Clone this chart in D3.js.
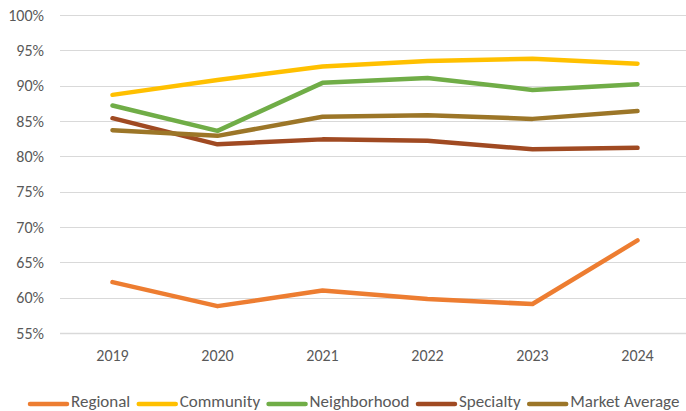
<!DOCTYPE html>
<html><head><meta charset="utf-8">
<script src="https://cdn.jsdelivr.net/npm/d3@7"></script>
<style>body{margin:0;background:#fff}svg{display:block}text{font-family:Calibri,Carlito,"Liberation Sans",Arial,sans-serif}</style>
</head><body><svg id="c" width="686" height="411"></svg>
<script>
const years = ["2019","2020","2021","2022","2023","2024"];
const seriesNames = ["Regional","Community","Neighborhood","Specialty","Market Average"];
const regional = [62.2, 58.8, 61.0, 59.8, 59.1, 68.1];
const community = [88.7, 90.8, 92.7, 93.5, 93.8, 93.1];
const neighborhood = [87.2, 83.6, 90.4, 91.1, 89.4, 90.2];
const specialty = [85.4, 81.7, 82.4, 82.2, 81.0, 81.2];
const marketAverage = [83.7, 82.9, 85.6, 85.8, 85.3, 86.4];
const yTicks = [55,60,65,70,75,80,85,90,95,100];
const colors = ["#ED7D31","#FFC000","#70AD47","#A04A22","#9C7628"];

const seriesValues = [regional, community, neighborhood, specialty, marketAverage];
const svg = d3.select("#c");
const x = d3.scaleBand().domain(years).range([60, 690]);
const y = d3.scaleLinear().domain([55, 100]).range([333, 15]);

// gridlines
svg.append("g").selectAll("line").data(yTicks).join("line")
  .attr("x1", 60).attr("x2", 686)
  .attr("y1", d => Math.round(y(d)) + 0.5).attr("y2", d => Math.round(y(d)) + 0.5)
  .attr("stroke", "#d9d9d9").attr("stroke-width", d => d === 55 ? 1.5 : 1);

// y labels
svg.append("g").selectAll("text").data(yTicks).join("text")
  .attr("x", 44).attr("y", d => y(d)).attr("dy", "0.35em")
  .attr("text-anchor", "end").attr("font-size", 16).attr("fill", "#595959")
  .text(d => d + "%");

// x labels
svg.append("g").selectAll("text").data(years).join("text")
  .attr("x", d => x(d) + x.bandwidth()/2).attr("y", 355).attr("dy", "0.35em")
  .attr("text-anchor", "middle").attr("font-size", 16).attr("fill", "#595959")
  .text(d => d);

const line = d3.line().x((d, i) => x(years[i]) + x.bandwidth()/2).y(d => y(d));
svg.append("g").selectAll("path").data(seriesValues).join("path")
  .attr("d", d => line(d)).attr("fill", "none")
  .attr("stroke", (d, i) => colors[i]).attr("stroke-width", 4.5)
  .attr("stroke-linecap", "round").attr("stroke-linejoin", "round");

// legend
const lg = svg.append("g");
let lx = 28;
seriesNames.forEach((name, i) => {
  lg.append("line").attr("x1", lx + 2).attr("x2", lx + 39).attr("y1", 404).attr("y2", 404)
    .attr("stroke", colors[i]).attr("stroke-width", 4.5).attr("stroke-linecap", "round");
  const t = lg.append("text").attr("x", lx + 43).attr("y", 406.5).attr("font-size", 17)
    .attr("fill", "#595959").text(name);
  lx += 43 + t.node().getComputedTextLength() + 6.5;
});
</script></body></html>
